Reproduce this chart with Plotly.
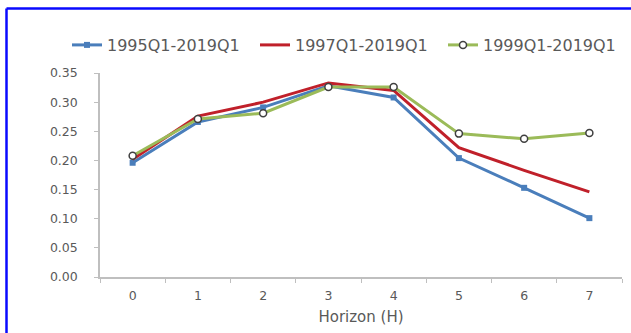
import plotly.graph_objects as go

horizons = ["0", "1", "2", "3", "4", "5", "6", "7"]
s1995 = [0.196, 0.266, 0.291, 0.328, 0.308, 0.204, 0.153, 0.101]
s1997 = [0.202, 0.276, 0.300, 0.333, 0.320, 0.222, 0.183, 0.146]
s1999 = [0.208, 0.271, 0.281, 0.326, 0.326, 0.246, 0.237, 0.247]
names = ["1995Q1-2019Q1", "1997Q1-2019Q1", "1999Q1-2019Q1"]
y_ticks = [0.00, 0.05, 0.10, 0.15, 0.20, 0.25, 0.30, 0.35]

W, H = 631, 333
L, R, T, B = 100, 9, 73, 56
pw, ph = W - L - R, H - T - B

def px_x(p):
    return (p - L) / pw

def px_y(p):
    return (H - B - p) / ph

FONT = "DejaVu Sans, Arial, sans-serif"
GRAY = "#595959"

fig = go.Figure()
fig.add_trace(go.Scatter(x=horizons, y=s1995, name=names[0], mode="lines+markers",
                         line=dict(color="#4a7ebb", width=3),
                         marker=dict(symbol="square", size=6, color="#4a7ebb")))
fig.add_trace(go.Scatter(x=horizons, y=s1997, name=names[1], mode="lines",
                         line=dict(color="#c0202a", width=3)))
fig.add_trace(go.Scatter(x=horizons, y=s1999, name=names[2], mode="lines+markers",
                         line=dict(color="#9bbb59", width=3),
                         marker=dict(symbol="circle", size=7, color="white",
                                     line=dict(color="#404040", width=1.5))))

fig.update_layout(
    width=W, height=H,
    margin=dict(l=L, r=R, t=T, b=B),
    paper_bgcolor="white", plot_bgcolor="white",
    font=dict(family=FONT, color=GRAY),
    showlegend=True,
    legend=dict(orientation="h", x=px_x(76), xanchor="left", y=px_y(45), yanchor="middle",
                font=dict(size=16, color=GRAY), entrywidth=143, entrywidthmode="pixels",
                bgcolor="rgba(0,0,0,0)", itemwidth=30),
    xaxis=dict(type="category", tickson="boundaries", ticks="outside", ticklen=4,
               tickcolor="#bfbfbf", showline=True, linecolor="#bfbfbf", linewidth=1.5,
               showgrid=False, zeroline=False, tickfont=dict(size=12.5, color=GRAY),
               ticklabelstandoff=6,
               title=dict(text="Horizon (H)", font=dict(size=15, color=GRAY), standoff=10),
               range=[-0.5, 7.5]),
    yaxis=dict(range=[0, 0.35], tickvals=y_ticks, ticktext=[f"{v:.2f}" for v in y_ticks],
               ticks="outside", ticklen=4, tickcolor="#bfbfbf", showline=True,
               linecolor="#bfbfbf", linewidth=1.5, showgrid=False, zeroline=False,
               tickfont=dict(size=12.5, color=GRAY), ticklabelstandoff=14),
    shapes=[
        dict(type="line", xref="paper", yref="paper", x0=px_x(6.5), x1=px_x(640),
             y0=px_y(8.5), y1=px_y(8.5), line=dict(color="#0a0aff", width=2.5)),
        dict(type="line", xref="paper", yref="paper", x0=px_x(6.5), x1=px_x(6.5),
             y0=px_y(8.5), y1=px_y(345), line=dict(color="#0a0aff", width=2.5)),
    ],
)

fig.write_html("out.html")
